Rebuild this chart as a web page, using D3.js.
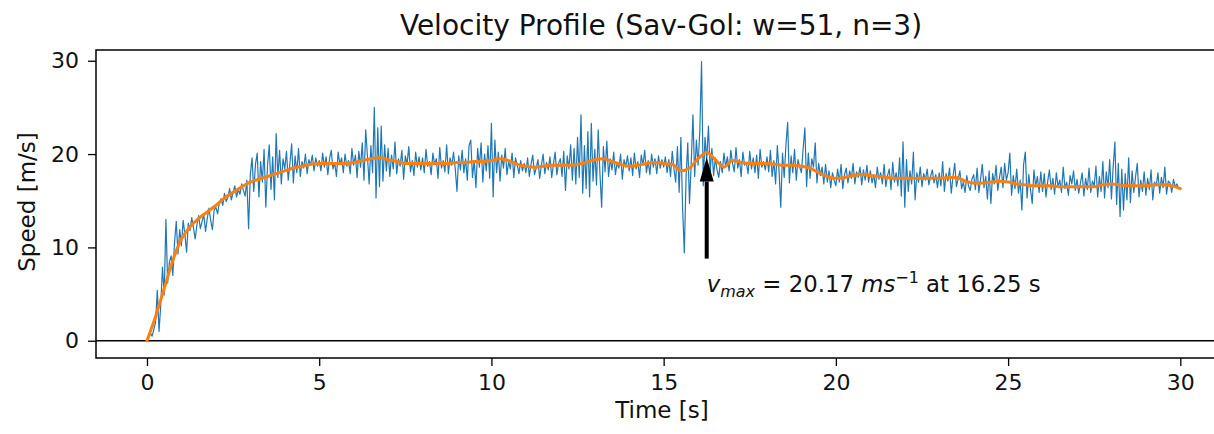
<!DOCTYPE html>
<html>
<head>
<meta charset="utf-8">
<script src="https://cdn.jsdelivr.net/npm/d3@7"></script>
<style>
  html, body { margin: 0; padding: 0; background: #fff; }
  svg { display: block; font-family: "DejaVu Sans", sans-serif; }
</style>
</head>
<body>
<svg id="chart" width="1214" height="434"></svg>
<script>
// ---- Data ----
const rawStep = 0.05; // seconds between raw samples
const rawSpeed = [
  // 0.00 - 0.95
  0.0,0.3,0.8,0.5,1.2,2.0,5.4,1.0,3.8,7.9,4.9,13.0,6.2,8.4,9.1,7.0,10.5,12.8,9.3,11.9,
  // 1.00 - 1.95
  10.2,12.9,11.4,9.5,12.6,11.8,13.2,12.1,10.9,12.4,13.4,12.0,12.8,13.5,11.7,13.1,14.2,12.9,11.9,14.0,
  // 2.00 - 2.95
  14.3,13.6,14.8,15.2,14.5,15.8,14.9,15.4,16.3,15.1,15.9,16.6,15.4,16.2,15.7,16.8,16.1,15.5,17.2,12.0,
  // 3.00 - 3.95
  17.8,19.6,16.0,18.9,20.1,15.4,19.2,17.0,20.5,14.3,18.8,21.0,16.2,19.7,15.1,22.2,17.5,20.4,16.8,19.5,
  // 4.00 - 4.95
  18.4,20.3,17.2,19.0,21.1,16.9,19.8,18.0,20.6,17.6,19.2,18.5,20.0,17.9,19.4,18.8,19.9,18.2,19.6,18.7,
  // 5.00 - 5.95
  19.3,18.2,20.1,18.6,19.7,17.8,19.5,20.4,18.4,19.1,17.6,20.2,18.9,19.6,18.0,20.0,18.7,19.3,17.9,20.6,
  // 6.00 - 6.95
  18.8,19.9,17.5,20.3,18.6,21.2,17.2,22.6,19.8,16.8,20.9,18.0,25.0,15.3,22.8,16.5,23.0,17.1,21.0,18.2,
  // 7.00 - 7.95
  20.6,17.6,19.9,18.4,21.3,17.9,19.5,18.7,20.4,17.3,19.8,18.9,20.8,18.1,19.3,17.7,20.2,18.6,19.7,18.3,
  // 8.00 - 8.95
  19.6,18.0,20.5,18.7,19.2,17.8,20.1,18.9,19.5,17.4,20.7,18.5,19.3,18.1,21.0,17.9,19.6,18.8,20.2,18.4,
  // 9.00 - 9.95
  16.0,19.8,18.3,20.4,18.0,19.5,17.2,20.9,21.5,17.5,19.3,16.4,20.6,18.6,21.2,17.0,20.0,18.2,20.9,17.4,
  // 10.00 - 10.95
  23.3,15.4,21.5,18.0,20.2,17.1,19.9,18.5,20.6,17.8,19.2,18.4,20.1,17.5,19.6,18.8,17.9,19.3,18.2,19.0,
  // 11.00 - 11.95
  18.0,19.6,17.6,18.9,19.9,17.8,18.5,19.4,17.4,18.8,20.0,17.9,19.1,18.3,19.7,17.5,18.9,20.2,17.8,19.0,
  // 12.00 - 12.95
  19.5,17.6,20.3,16.1,19.8,18.4,21.0,17.2,20.6,16.8,21.8,17.5,24.2,15.8,20.9,16.3,22.4,15.4,23.3,17.1,
  // 13.00 - 13.95
  20.5,16.7,22.6,17.9,14.3,20.8,18.1,21.4,17.6,19.5,18.3,20.2,17.8,19.1,18.5,20.0,17.3,19.4,18.6,19.8,
  // 14.00 - 14.95
  18.2,19.6,17.7,20.1,18.4,19.2,17.5,19.9,18.8,20.4,18.0,19.3,17.8,20.0,18.6,19.5,17.9,19.8,18.5,19.4,
  // 15.00 - 15.95
  18.6,19.7,18.0,19.4,17.6,20.3,18.4,17.0,20.8,15.9,21.8,14.2,9.4,17.5,21.2,14.7,19.0,24.2,17.6,21.5,
  // 16.00 - 16.95
  18.8,22.5,29.9,16.6,21.8,19.4,23.0,18.1,20.6,17.7,19.6,18.3,17.5,19.2,18.0,20.1,18.6,19.7,18.2,20.4,
  // 17.00 - 17.95
  19.0,18.1,20.7,18.5,19.4,17.6,20.2,18.8,19.1,17.9,20.3,18.4,19.6,18.0,19.9,17.4,20.5,18.6,19.2,18.3,
  // 18.00 - 18.95
  19.7,18.1,20.4,17.6,19.3,16.8,20.9,18.2,14.3,20.1,17.5,21.0,23.4,16.9,19.8,18.0,20.5,17.2,19.4,18.6,
  // 19.00 - 19.95
  18.0,20.6,22.8,16.5,20.1,17.4,19.5,18.6,21.2,16.9,19.0,17.7,18.6,16.8,18.9,17.0,18.2,16.4,18.0,17.2,
  // 20.00 - 20.95
  16.6,18.4,17.0,18.9,16.3,17.8,18.5,16.9,18.2,17.4,19.0,16.8,18.1,17.5,18.6,16.7,18.3,17.2,18.8,17.0,
  // 21.00 - 21.95
  18.2,16.9,17.8,16.4,18.6,17.3,18.0,16.8,18.9,16.5,17.7,18.4,16.2,19.1,17.0,18.0,16.6,19.6,15.5,21.3,
  // 22.00 - 22.95
  14.3,19.4,16.0,18.2,16.8,20.2,15.1,18.0,17.0,18.6,16.5,17.9,17.2,18.4,16.7,17.6,18.3,16.9,17.8,16.4,
  // 23.00 - 23.95
  18.0,16.6,19.2,16.0,17.9,17.1,18.5,15.8,17.6,19.0,16.5,17.4,18.2,16.3,17.0,15.9,17.7,16.6,16.1,17.3,
  // 24.00 - 24.95
  17.8,16.2,18.5,15.9,17.3,18.9,16.4,17.6,15.2,18.2,14.7,17.9,16.8,18.8,16.1,17.5,18.6,16.4,19.0,17.2,
  // 25.00 - 25.95
  18.0,20.1,15.6,17.7,16.3,18.4,15.8,17.2,14.0,18.9,20.2,15.3,17.8,16.2,14.7,18.3,16.5,17.6,15.9,18.1,
  // 26.00 - 26.95
  16.0,17.9,15.4,17.1,18.3,16.2,17.4,15.7,18.0,16.5,17.2,15.9,18.6,16.3,17.0,15.6,17.7,16.8,18.2,16.1,
  // 27.00 - 27.95
  17.3,15.8,16.9,18.0,15.5,17.4,16.2,18.5,15.9,17.1,16.6,18.7,15.4,17.6,16.0,19.2,15.3,18.1,16.4,19.4,
  // 28.00 - 28.95
  15.2,18.6,21.3,14.6,19.0,13.3,18.4,14.0,17.9,15.1,19.6,14.8,18.2,15.9,17.6,19.0,15.4,17.2,16.0,18.1,
  // 29.00 - 29.95
  15.6,17.4,16.2,18.3,15.1,17.0,16.6,18.0,15.8,17.5,16.4,18.6,15.7,17.1,16.9,15.9,17.3,16.5,16.8,16.3
];

const smoothStep = 0.25; // seconds between smoothed samples
const smoothSpeed = [
  0.0,2.6,5.6,8.6, 10.9,12.2,13.1,13.8, 14.5,15.3,15.9,16.5, 17.0,17.3,17.6,17.9,
  18.2,18.5,18.7,18.9, 19.0,19.0,19.0,19.0, 19.1,19.3,19.5,19.6, 19.4,19.2,19.0,19.0,
  19.0,19.0,19.0,19.0, 19.1,19.1,19.2,19.2, 19.3,19.5,19.3,18.9, 18.7,18.6,18.7,18.8,
  18.8,18.8,18.9,19.1, 19.4,19.5,19.2,18.9, 18.7,18.8,19.0,19.1, 19.0,18.9,18.2,18.5,
  19.5,20.17,19.4,18.6, 19.3,19.1,19.0,19.0, 19.0,18.9,18.8,18.8, 18.7,18.5,18.0,17.6,
  17.4,17.5,17.7,17.8, 17.7,17.6,17.5,17.4, 17.4,17.4,17.4,17.4, 17.4,17.5,17.5,17.1,
  16.9,16.9,17.0,17.1, 17.0,16.8,16.7,16.6, 16.6,16.6,16.5,16.5, 16.5,16.5,16.5,16.7,
  16.8,16.7,16.6,16.6, 16.6,16.7,16.7,16.6, 16.3
];

const xTicks = [0, 5, 10, 15, 20, 25, 30];
const yTicks = [0, 10, 20, 30];
const titleText = "Velocity Profile (Sav-Gol: w=51, n=3)";
const xLabel = "Time [s]";
const yLabel = "Speed [m/s]";
const peakTime = 16.25;
const peakSpeed = 20.17;
const arrowTailSpeed = 8.8;

// ---- Layout ----
const W = 1214, H = 434;
const m = { left: 96, top: 50, right: 1232, bottom: 358 };

const x = d3.scaleLinear().domain([-1.48, 31.5]).range([m.left, m.right]);
const y = d3.scaleLinear().domain([-1.85, 31.15]).range([m.bottom, m.top]);

const svg = d3.select("#chart");

svg.append("defs").append("clipPath").attr("id", "clip")
  .append("rect").attr("x", m.left).attr("y", m.top)
  .attr("width", m.right - m.left).attr("height", m.bottom - m.top);

const plot = svg.append("g").attr("clip-path", "url(#clip)");

// horizontal zero line
plot.append("line")
  .attr("x1", m.left).attr("x2", m.right)
  .attr("y1", y(0)).attr("y2", y(0))
  .attr("stroke", "#000").attr("stroke-width", 1.3);

const rawData = rawSpeed.map((v, i) => [i * rawStep, v]);
const smoothData = smoothSpeed.map((v, i) => [i * smoothStep, v]);

const line = d3.line().x(d => x(d[0])).y(d => y(d[1]));

plot.append("path").datum(rawData)
  .attr("fill", "none").attr("stroke", "#1f77b4")
  .attr("stroke-width", 1.2).attr("stroke-linejoin", "round")
  .attr("d", line);

plot.append("path").datum(smoothData)
  .attr("fill", "none").attr("stroke", "#ff7f0e")
  .attr("stroke-width", 3).attr("stroke-linejoin", "round").attr("stroke-linecap", "round")
  .attr("d", line.curve(d3.curveMonotoneX));

// arrow annotation
const ax = x(peakTime);
const tipY = y(peakSpeed) + 5;
const baseY = tipY + 24;
plot.append("line")
  .attr("x1", ax).attr("x2", ax)
  .attr("y1", y(arrowTailSpeed)).attr("y2", baseY)
  .attr("stroke", "#000").attr("stroke-width", 4);
plot.append("path")
  .attr("d", `M${ax},${tipY} L${ax - 7},${baseY} L${ax + 7},${baseY} Z`)
  .attr("fill", "#000");

// annotation text
const ann = svg.append("text")
  .attr("x", ax).attr("y", 292)
  .attr("font-size", 22.8).attr("fill", "#111");
ann.append("tspan").attr("font-style", "italic").text("v");
ann.append("tspan").attr("font-style", "italic").attr("font-size", 16).attr("dy", 5).text("max");
ann.append("tspan").attr("dy", -5).text(" = 20.17 ");
ann.append("tspan").attr("font-style", "italic").text("ms");
ann.append("tspan").attr("font-size", 16).attr("dy", -9).text("\u22121");
ann.append("tspan").attr("dy", 9).text(" at 16.25 s");

// frame
svg.append("rect")
  .attr("x", m.left).attr("y", m.top)
  .attr("width", m.right - m.left).attr("height", m.bottom - m.top)
  .attr("fill", "none").attr("stroke", "#000").attr("stroke-width", 1.5);

// axes
const xAxis = d3.axisBottom(x).tickValues(xTicks).tickSize(8).tickPadding(8).tickFormat(d3.format("d"));
const yAxis = d3.axisLeft(y).tickValues(yTicks).tickSize(8).tickPadding(9).tickFormat(d3.format("d"));

const gx = svg.append("g").attr("transform", `translate(0,${m.bottom})`).call(xAxis);
const gy = svg.append("g").attr("transform", `translate(${m.left},0)`).call(yAxis);
[gx, gy].forEach(g => {
  g.select(".domain").remove();
  g.selectAll(".tick line").attr("stroke", "#000").attr("stroke-width", 1.3);
  g.selectAll(".tick text").attr("font-size", 22).attr("fill", "#111")
    .attr("font-family", "DejaVu Sans, sans-serif");
});

// labels
svg.append("text").attr("x", (m.left + m.right) / 2 - 2).attr("y", 418)
  .attr("text-anchor", "middle").attr("font-size", 23).attr("fill", "#111").text(xLabel);
svg.append("text").attr("transform", `translate(35,${(m.top + m.bottom) / 2 - 2}) rotate(-90)`)
  .attr("text-anchor", "middle").attr("font-size", 23).attr("fill", "#111").text(yLabel);
svg.append("text").attr("x", (m.left + m.right) / 2 - 3).attr("y", 35)
  .attr("text-anchor", "middle").attr("font-size", 28).attr("fill", "#111").text(titleText);
</script>
</body>
</html>
